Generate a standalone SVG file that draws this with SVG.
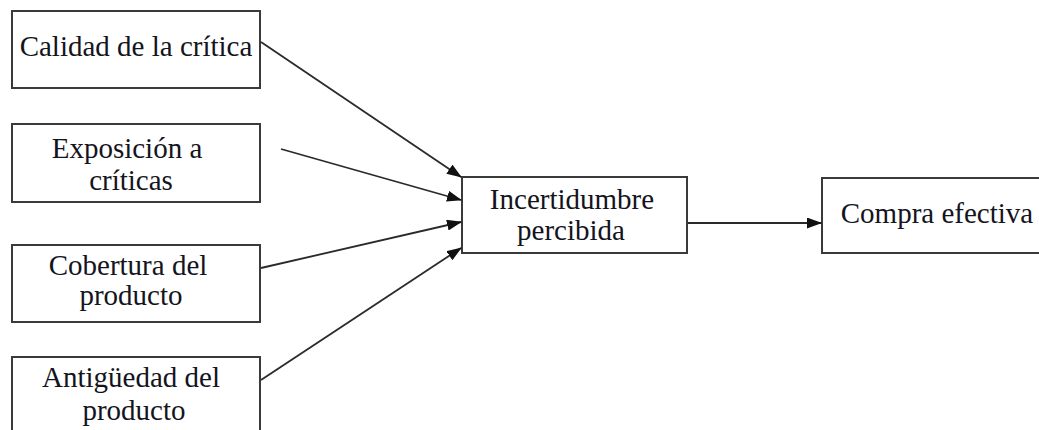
<svg xmlns="http://www.w3.org/2000/svg" width="1039" height="430" viewBox="0 0 1039 430">
  <defs>
    <marker id="arrow" markerUnits="userSpaceOnUse" markerWidth="15" markerHeight="11" refX="14" refY="5.5" orient="auto">
      <path d="M0,0 L15,5.5 L0,11 Z" fill="#111"/>
    </marker>
    <style>
      .box { fill: #fff; stroke: #3a3a3a; stroke-width: 2; }
      .label { font-family: "Liberation Serif", "Times New Roman", serif; font-size: 29px; fill: #141420; text-anchor: middle; }
      .link { fill: none; stroke: #2a2a2a; stroke-width: 1.8; marker-end: url(#arrow); }
    </style>
  </defs>
  <rect width="1039" height="430" fill="#fff"/>

  <g id="calidad">
    <rect class="box" x="12" y="11" width="248" height="77"/>
    <text class="label" x="136" y="56">Calidad de la crítica</text>
  </g>

  <g id="exposicion">
    <rect class="box" x="12" y="124" width="248" height="78"/>
    <text class="label" x="127" y="158">Exposición a</text>
    <text class="label" x="131" y="190">críticas</text>
  </g>

  <g id="cobertura">
    <rect class="box" x="12" y="245" width="248" height="77"/>
    <text class="label" x="128" y="275">Cobertura del</text>
    <text class="label" x="131" y="305">producto</text>
  </g>

  <g id="antiguedad">
    <rect class="box" x="12" y="357" width="248" height="90"/>
    <text class="label" x="131" y="387">Antigüedad del</text>
    <text class="label" x="134" y="420">producto</text>
  </g>

  <g id="incertidumbre">
    <rect class="box" x="462" y="177" width="225" height="76"/>
    <text class="label" x="572" y="209">Incertidumbre</text>
    <text class="label" x="571" y="240">percibida</text>
  </g>

  <g id="compra">
    <rect class="box" x="822" y="178" width="240" height="75"/>
    <text class="label" x="937" y="223">Compra efectiva</text>
  </g>

  <g id="connectors">
    <line class="link" x1="261" y1="42" x2="461" y2="177"/>
    <line class="link" x1="281" y1="149" x2="461" y2="200"/>
    <line class="link" x1="261" y1="268" x2="461" y2="222"/>
    <line class="link" x1="261" y1="380" x2="461" y2="248"/>
    <line class="link" x1="688" y1="223" x2="821" y2="223"/>
  </g>
</svg>
